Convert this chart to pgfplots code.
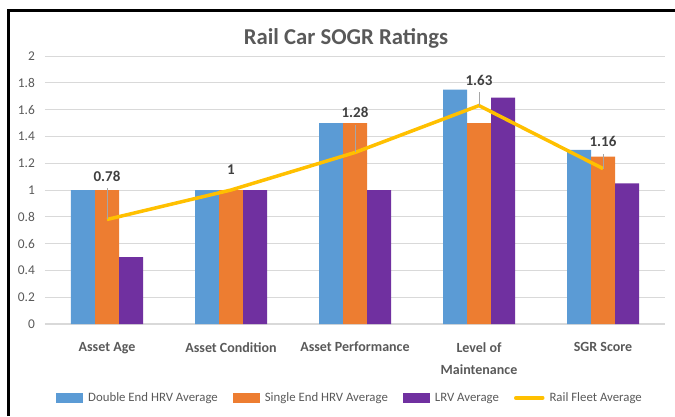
\documentclass[border=0pt]{standalone}
\usepackage{pgfplots}
\pgfplotsset{compat=1.18}
\usepackage{fontspec}
\setmainfont{Carlito}
\definecolor{cblue}{HTML}{5B9BD5}
\definecolor{corange}{HTML}{ED7D31}
\definecolor{cpurple}{HTML}{7030A0}
\definecolor{cyellow}{HTML}{FFC000}
\definecolor{gridgray}{HTML}{D9D9D9}
\definecolor{labelgray}{HTML}{595959}
\definecolor{datagray}{HTML}{404040}
\definecolor{leadergray}{HTML}{A6A6A6}
\begin{document}
\begin{tikzpicture}
\path[use as bounding box] (0pt,0pt) rectangle (675pt,416pt);
\draw[black, line width=3pt] (8pt,0pt) -- (8pt,405pt) -- (675pt,405pt);
\node[font=\bfseries\fontsize{22.7}{26}\selectfont, text=labelgray] at (346pt,378pt) {Rail Car SOGR Ratings};
\begin{axis}[
  at={(45pt,92pt)}, anchor=south west,
  width=620pt, height=268pt, scale only axis,
  xmin=-0.5, xmax=4.5, ymin=0, ymax=2,
  xtick={0,1,2,3,4},
  xticklabels={Asset Age, Asset Condition, Asset Performance, {Level of\\Maintenance}, SGR Score},
  ytick={0,0.2,0.4,0.6,0.8,1,1.2,1.4,1.6,1.8,2},
  yticklabels={0,0.2,0.4,0.6,0.8,1,1.2,1.4,1.6,1.8,2},
  ymajorgrids,
  major grid style={draw=gridgray, line width=0.9pt},
  axis x line*=bottom, axis y line*=left,
  x axis line style={draw=gridgray, line width=1.3pt, -},
  y axis line style={draw=none},
  major tick length=0pt,
  yticklabel style={font=\fontsize{13.4}{15}\selectfont, text=labelgray, inner sep=0pt, anchor=east, xshift=-10pt},
  xticklabel style={font=\bfseries\fontsize{14}{22}\selectfont, text=labelgray, align=center, inner sep=0pt, anchor=north, yshift=-18pt},
  legend style={at={(0.492,-0.276)}, anchor=center, draw=none, fill=none,
    font=\fontsize{12.8}{14}\selectfont, text=labelgray,
    /tikz/every odd column/.append style={column sep=3pt},
    /tikz/every even column/.append style={column sep=13pt}},
  legend columns=4,
]
\addplot[ybar, bar width=24pt, bar shift=-24pt, fill=cblue, draw=none,
  legend image code/.code={\fill[cblue] (0pt,-5pt) rectangle (27pt,5pt);}]
  coordinates {(0,1) (1,1) (2,1.5) (3,1.75) (4,1.3)};
\addlegendentry{Double End HRV Average}
\addplot[ybar, bar width=24pt, bar shift=0pt, fill=corange, draw=none,
  legend image code/.code={\fill[corange] (0pt,-5pt) rectangle (27pt,5pt);}]
  coordinates {(0,1) (1,1) (2,1.5) (3,1.5) (4,1.25)};
\addlegendentry{Single End HRV Average}
\addplot[ybar, bar width=24pt, bar shift=24pt, fill=cpurple, draw=none,
  legend image code/.code={\fill[cpurple] (0pt,-5pt) rectangle (27pt,5pt);}]
  coordinates {(0,0.5) (1,1) (2,1) (3,1.69) (4,1.05)};
\addlegendentry{LRV Average}
\addplot[sharp plot, draw=cyellow, line width=3.5pt, mark=none,
  legend image code/.code={\draw[cyellow, line width=3.5pt, line cap=round] (0pt,0pt) -- (27pt,0pt);}]
  coordinates {(0,0.78) (1,1) (2,1.28) (3,1.63) (4,1.16)};
\addlegendentry{Rail Fleet Average}
\draw[leadergray, line width=1pt] (axis cs:0,0.78) -- (axis cs:0,1.015);
\draw[leadergray, line width=1pt] (axis cs:2,1.28) -- (axis cs:2,1.485);
\draw[leadergray, line width=1pt] (axis cs:3,1.63) -- (axis cs:3,1.73);
\draw[leadergray, line width=1pt] (axis cs:4,1.16) -- (axis cs:4,1.27);
\begin{scope}[every node/.style={font=\bfseries\fontsize{15}{18}\selectfont, text=datagray}]
\node at (axis cs:0,1.10) {0.78};
\node at (axis cs:1,1.15) {1};
\node at (axis cs:2,1.58) {1.28};
\node at (axis cs:3,1.82) {1.63};
\node at (axis cs:4,1.36) {1.16};
\end{scope}
\end{axis}
\end{tikzpicture}
\end{document}
